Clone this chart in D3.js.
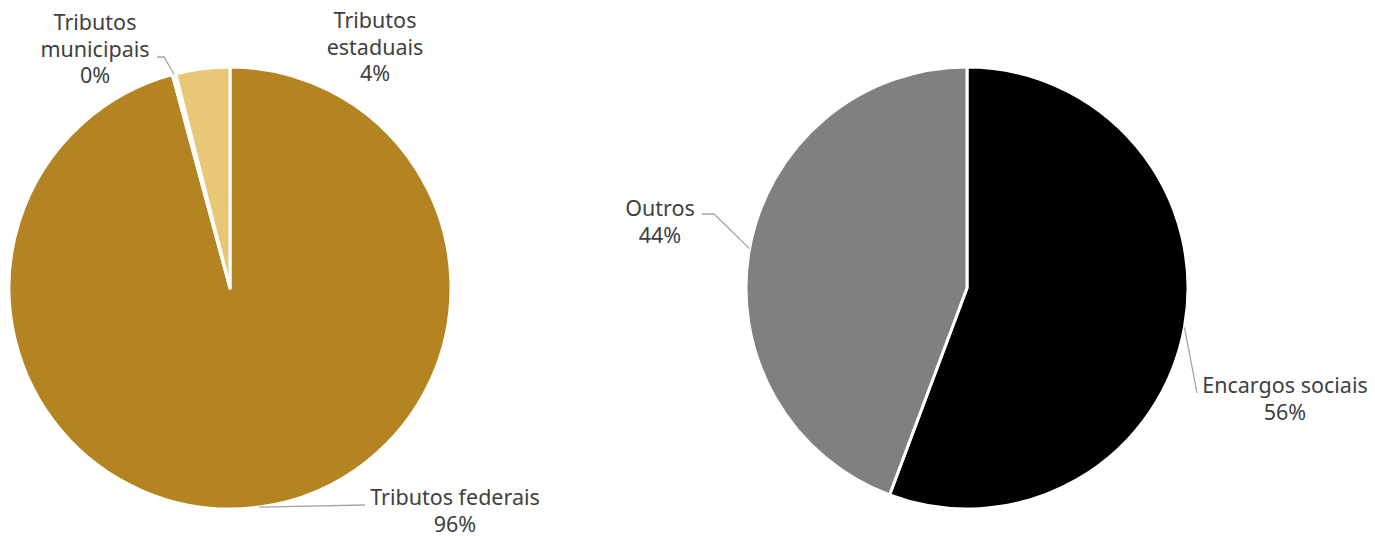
<!DOCTYPE html>
<html>
<head>
<meta charset="utf-8">
<script src="https://cdn.jsdelivr.net/npm/d3@7"></script>
<style>
  body { margin: 0; background: #fff; }
  svg text { font-family: "Noto Sans", sans-serif; font-size: 21.5px; fill: #404040; }
</style>
</head>
<body>
<svg id="chart"></svg>
<script>
// left pie: tributos
const leftNames = ['Tributos federais', 'Tributos municipais', 'Tributos estaduais'];
const leftValues = [95.8, 0.25, 3.95];
const leftLabels = [['Tributos federais', '96%'], ['Tributos', 'municipais', '0%'], ['Tributos', 'estaduais', '4%']];
const leftColors = ['#B38421', '#E8C877', '#E8C877'];

// right pie: encargos
const rightNames = ['Encargos sociais', 'Outros'];
const rightValues = [55.7, 44.3];
const rightLabels = [['Encargos sociais', '56%'], ['Outros', '44%']];
const rightColors = ['#000000', '#808080'];

const width = 1375, height = 537;
const radius = 221;

const svg = d3.select('#chart')
  .attr('width', width)
  .attr('height', height);

const pie = d3.pie().sort(null).value(d => d);
const arc = d3.arc().innerRadius(0).outerRadius(radius);

// label placement: text centre x, first line y, leader elbow (null = no leader)
const leftLayout = [
  { x: 455, y: 505, elbow: [365, 505], anchor: 'middle' },
  { x: 95, y: 30, elbow: [164, 57], start: [157, 57], anchor: 'middle' },
  { x: 375, y: 28, elbow: null, anchor: 'middle' }
];
const rightLayout = [
  { x: 1285, y: 393, elbow: [1197, 393], anchor: 'middle' },
  { x: 660, y: 216, elbow: [714, 214], start: [702, 214], anchor: 'middle' }
];

function drawPie(cx, cy, values, colors, labels, layout) {
  const g = svg.append('g').attr('transform', `translate(${cx},${cy})`);
  const arcs = pie(values);

  g.selectAll('path.slice')
    .data(arcs)
    .enter().append('path')
    .attr('class', 'slice')
    .attr('d', arc)
    .attr('fill', (d, i) => colors[i])
    .attr('stroke', '#fff')
    .attr('stroke-width', 3)
    .attr('stroke-linejoin', 'round');

  arcs.forEach((d, i) => {
    const l = layout[i];
    const mid = (d.startAngle + d.endAngle) / 2;
    const px = cx + radius * Math.sin(mid);
    const py = cy - radius * Math.cos(mid);

    if (l.elbow) {
      const pts = [[px, py], l.elbow];
      if (l.start) pts.push(l.start);
      svg.append('path')
        .attr('d', d3.line()(pts))
        .attr('fill', 'none')
        .attr('stroke', '#A6A6A6')
        .attr('stroke-width', 1.3);
    }

    const t = svg.append('text')
      .attr('text-anchor', l.anchor)
      .attr('x', l.x)
      .attr('y', l.y);
    labels[i].forEach((line, j) => {
      t.append('tspan')
        .attr('x', l.x)
        .attr('dy', j === 0 ? 0 : 26.5)
        .text(line);
    });
  });
}

drawPie(230, 288, leftValues, leftColors, leftLabels, leftLayout);
drawPie(967, 288, rightValues, rightColors, rightLabels, rightLayout);
</script>
</body>
</html>
